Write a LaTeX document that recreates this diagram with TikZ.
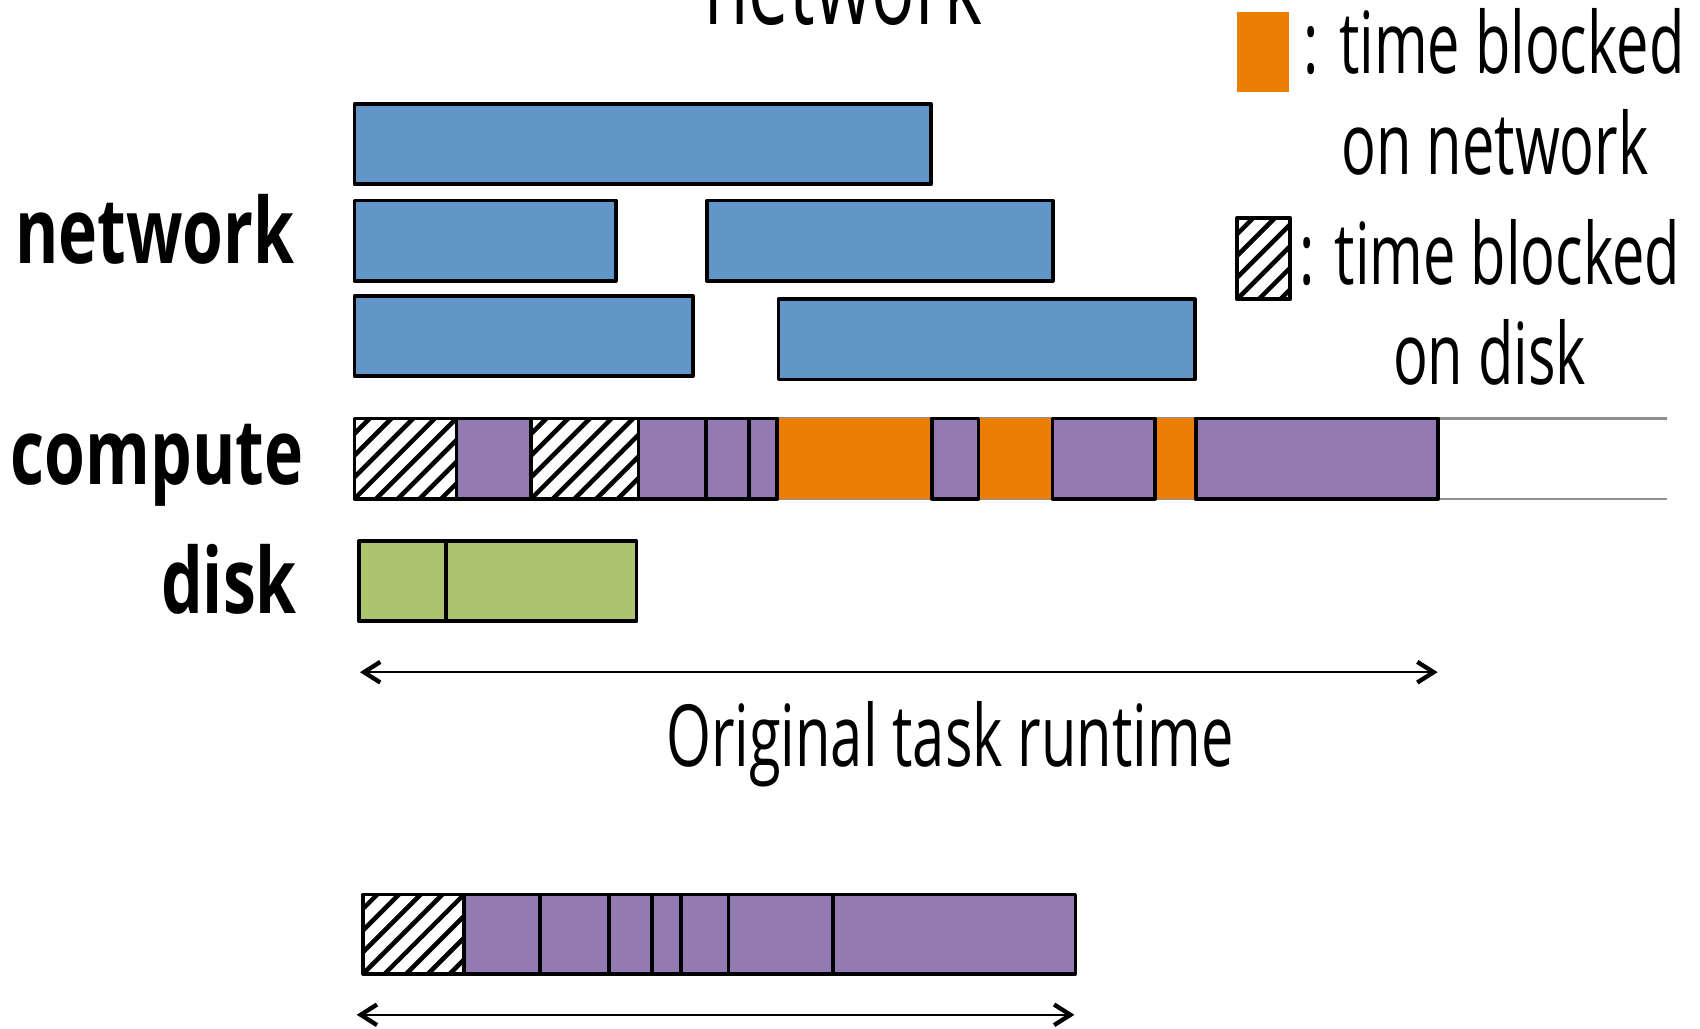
\documentclass[tikz,border=0pt]{standalone}
\usepackage{fontspec}
\setmainfont{Open Sans}[FakeStretch=0.674]
\newfontfamily\labelfont{Open Sans}[FakeStretch=0.725]
\usetikzlibrary{arrows.meta}

\definecolor{netblue}{HTML}{6096C8}
\definecolor{cpupurple}{HTML}{937AB0}
\definecolor{blockorange}{HTML}{EB7F05}
\definecolor{diskgreen}{HTML}{ABC46D}
\definecolor{railgrey}{HTML}{8F8F8F}

% hatched "blocked on disk" block: x1, y1, x2, y2
\newcommand\hatchrect[4]{%
  \begin{scope}
    \clip (#1,#2) rectangle (#3,#4);
    \fill[white] (#1,#2) rectangle (#3,#4);
    \foreach \k in {-5,...,6}
      \draw[line width=4.2pt] ({#1+\k*20},#4) -- ++(100,-100);
  \end{scope}
  \draw[seg] (#1,#2) rectangle (#3,#4);
}

\tikzset{
  seg/.style={draw=black, line width=3.5pt, line join=round},
  netbox/.style={seg, fill=netblue},
  cpubox/.style={seg, fill=cpupurple},
  diskbox/.style={seg, fill=diskgreen},
  waitbox/.style={fill=blockorange},
  rail/.style={draw=railgrey, line width=2pt},
  span/.style={line width=2.3pt,
    {Straight Barb[length=15pt,width=19pt,line width=4pt]}-{Straight Barb[length=15pt,width=19pt,line width=4pt]}},
  lighttext/.style={inner sep=0pt, anchor=base, font=\fontsize{79}{79}\selectfont},
  rowlabel/.style={inner sep=0pt, anchor=base east, font=\labelfont\bfseries\fontsize{84}{84}\selectfont}
}

\begin{document}
\begin{tikzpicture}[x=1pt, y=-1pt]
\useasboundingbox (0,0) rectangle (1568,949);
\clip (0,0) rectangle (1568,949);

% heading, partly above the page
\node[inner sep=0pt, anchor=base, font=\fontsize{99}{99}\selectfont] (heading) at (778,23) {network};

% row labels
\node[rowlabel] (lnet) at (272,243) {network};
\node[rowlabel] (lcpu) at (280,447) {compute};
\node[rowlabel] (ldisk) at (274,566) {disk};

% network transfers
\draw[netbox] (327,96) rectangle (859,170);
\draw[netbox] (327,185) rectangle (568,259);
\draw[netbox] (652,185) rectangle (971,259);
\draw[netbox] (327,273) rectangle (639,347);
\draw[netbox] (718,276) rectangle (1102,350);

% compute lane
\draw[rail] (327,386) -- (1538,386);
\draw[rail] (327,460) -- (1538,460);
\fill[waitbox] (717,386) rectangle (859.5,460);
\fill[waitbox] (902.6,386) rectangle (970.7,460);
\fill[waitbox] (1065.3,386) rectangle (1102.8,460);
\hatchrect{327}{386}{421}{460}
\draw[cpubox] (421,386) rectangle (490,460);
\hatchrect{490}{386}{589}{460}
\draw[cpubox] (589,386) rectangle (651,460);
\draw[cpubox] (651,386) rectangle (690.5,460);
\draw[cpubox] (690.5,386) rectangle (717,460);
\draw[cpubox] (859.5,386) rectangle (902.6,460);
\draw[cpubox] (970.7,386) rectangle (1065.3,460);
\draw[cpubox] (1102.8,386) rectangle (1326.6,460);

% disk reads
\draw[diskbox] (331,499) rectangle (411,573);
\draw[diskbox] (411,499) rectangle (587,573);

% original runtime
\coordinate (rt0) at (332,620);
\coordinate (rt1) at (1326,620);
\draw[span] (rt0) -- (rt1);
\node[lighttext] (rtlabel) at (876,707) {Original task runtime};

% runtime without network blocking
\hatchrect{335}{825}{428}{898}
\draw[cpubox] (428,825) rectangle (498,898);
\draw[cpubox] (498,825) rectangle (562,898);
\draw[cpubox] (562,825) rectangle (601,898);
\draw[cpubox] (601,825) rectangle (628,898);
\draw[cpubox] (628,825) rectangle (672,898);
\draw[cpubox] (672,825) rectangle (768,898);
\draw[cpubox] (768,825) rectangle (992,898);
\coordinate (nr0) at (329,936);
\coordinate (nr1) at (991,936);
\draw[span] (nr0) -- (nr1);

% legend
\fill[blockorange] (1141,11) rectangle (1189,85);
\node[lighttext] (leg1a) at (1378,68) {: time blocked};
\node[lighttext] (leg1b) at (1379,161) {on network};
\hatchrect{1141}{201}{1190}{276}
\node[lighttext] (leg2a) at (1374,262) {: time blocked};
\node[lighttext] (leg2b) at (1374,355) {on disk};
\end{tikzpicture}
\end{document}
